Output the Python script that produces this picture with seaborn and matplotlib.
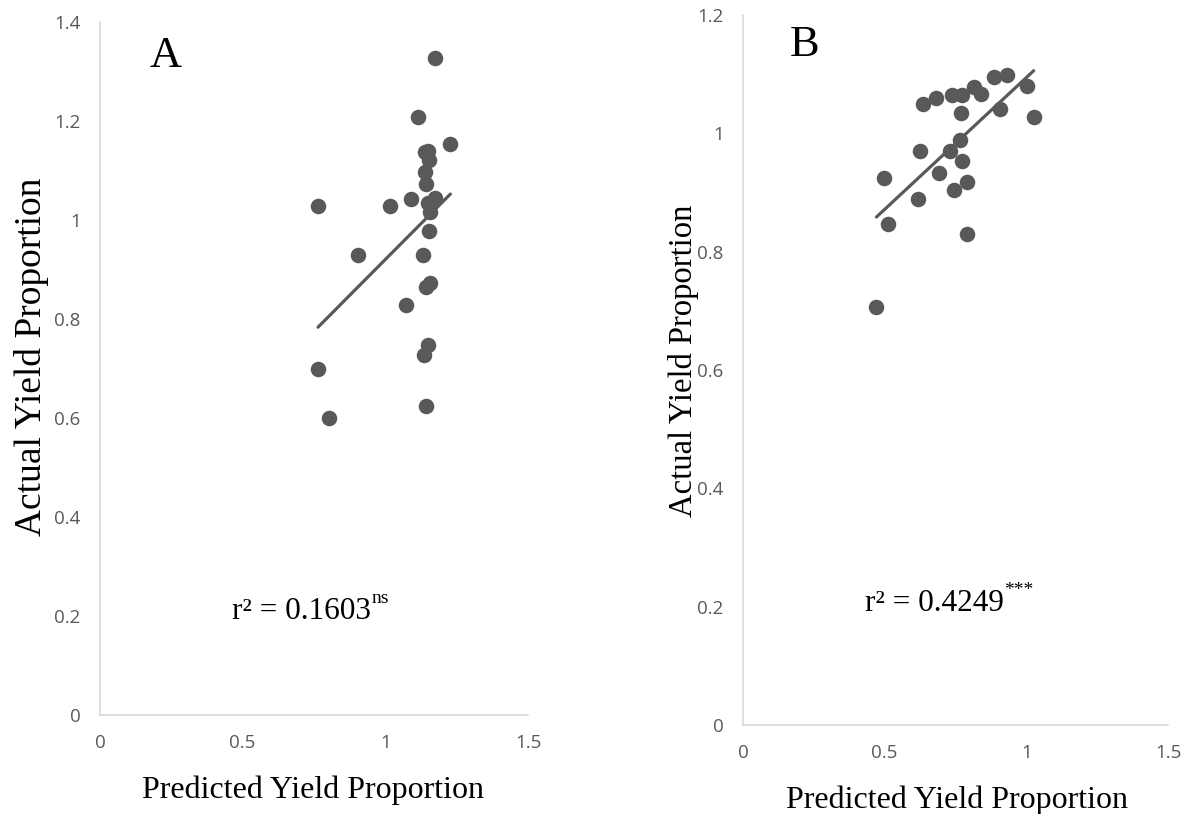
import matplotlib
matplotlib.use("Agg")
import matplotlib.pyplot as plt
import seaborn as sns
import numpy as np

# ---- data ----
predicted_a = [1.173, 1.114, 1.228, 1.150, 1.138, 1.154, 1.138, 1.144, 0.764, 1.018,
               1.091, 1.173, 1.150, 1.156, 1.153, 0.905, 1.132, 1.156, 1.142, 1.074,
               1.150, 1.137, 0.764, 1.142, 0.803]
actual_a = [1.327, 1.209, 1.153, 1.140, 1.138, 1.121, 1.096, 1.073, 1.029, 1.028,
            1.042, 1.045, 1.035, 1.017, 0.978, 0.929, 0.930, 0.873, 0.864, 0.828,
            0.747, 0.727, 0.699, 0.625, 0.599]

predicted_b = [0.636, 0.680, 0.736, 0.774, 0.814, 0.841, 0.885, 0.932, 1.003, 1.026,
               0.906, 0.768, 0.765, 0.732, 0.772, 0.626, 0.692, 0.497, 0.791, 0.745,
               0.618, 0.511, 0.792, 0.471]
actual_b = [1.049, 1.060, 1.065, 1.064, 1.078, 1.066, 1.096, 1.099, 1.080, 1.027,
            1.041, 1.035, 0.989, 0.970, 0.953, 0.970, 0.933, 0.925, 0.918, 0.905,
            0.889, 0.847, 0.830, 0.706]

x_ticks = [0, 0.5, 1, 1.5]
x_tick_labels = ["0", "0.5", "1", "1.5"]
y_ticks_a = [0, 0.2, 0.4, 0.6, 0.8, 1.0, 1.2, 1.4]
y_tick_labels_a = ["0", "0.2", "0.4", "0.6", "0.8", "1", "1.2", "1.4"]
y_ticks_b = [0, 0.2, 0.4, 0.6, 0.8, 1.0, 1.2]
y_tick_labels_b = ["0", "0.2", "0.4", "0.6", "0.8", "1", "1.2"]

panel_letters = ["A", "B"]
r2_texts = ["r\u00b2 = 0.1603", "r\u00b2 = 0.4249"]
sig_texts = ["ns", "***"]
x_title = "Predicted Yield Proportion"
y_title = "Actual Yield Proportion"

# ---- style ----
sns.set_style("white")
plt.rcParams["font.family"] = ["Open Sans", "DejaVu Sans"]

DOT = "#595959"
SPINE = "#d9d9d9"
TICK = "#595959"
SERIF = ["Liberation Serif", "DejaVu Serif"]

fig = plt.figure(figsize=(11.92, 8.14), dpi=100)
ax_a = fig.add_axes([100 / 1192, 1 - 715 / 814, 428 / 1192, 693 / 814])
ax_b = fig.add_axes([743 / 1192, 1 - 725 / 814, 425 / 1192, 710 / 814])

panels = [
    (ax_a, predicted_a, actual_a, 1.4, y_ticks_a, y_tick_labels_a, 27,
     (-0.160, 0.517), (0.498, -0.108), (0.154, 0.951), (0.308, 0.138)),
    (ax_b, predicted_b, actual_b, 1.2, y_ticks_b, y_tick_labels_b, 23.5,
     (-0.141, 0.513), (0.504, -0.106), (0.146, 0.958), (0.287, 0.160)),
]

for i, (ax, xs, ys, ymax, yt, ytl, ylab_size, ylab_pos, xlab_pos, let_pos, r2_pos) in enumerate(panels):
    sns.regplot(x=np.array(xs), y=np.array(ys), ax=ax, ci=None,
                scatter_kws=dict(s=125, color=DOT, linewidths=0, alpha=1),
                line_kws=dict(color=DOT, lw=2.3, solid_capstyle="round"))
    ax.set_xlim(0, 1.5)
    ax.set_ylim(0, ymax)
    ax.set_xticks(x_ticks)
    ax.set_xticklabels(x_tick_labels)
    ax.set_yticks(yt)
    ax.set_yticklabels(ytl)
    ax.tick_params(axis="both", length=0, labelsize=13.5, labelcolor=TICK, pad=14)
    for side in ["top", "right"]:
        ax.spines[side].set_visible(False)
    for side in ["left", "bottom"]:
        ax.spines[side].set_color(SPINE)
        ax.spines[side].set_linewidth(1.2)
    ax.grid(False)
    ax.set_facecolor("white")

    ax.set_xlabel(x_title, family=SERIF, fontsize=23, color="black", va="center")
    ax.xaxis.set_label_coords(*xlab_pos)
    ax.set_ylabel(y_title, family=SERIF, fontsize=ylab_size, color="black", va="center")
    ax.yaxis.set_label_coords(*ylab_pos)

    ax.text(let_pos[0], let_pos[1], panel_letters[i], transform=ax.transAxes,
            family=SERIF, fontsize=32, ha="center", va="center", color="black")

    t = ax.text(r2_pos[0], r2_pos[1], r2_texts[i], transform=ax.transAxes,
                family=SERIF, fontsize=22.5, ha="left", va="baseline", color="black")
    ax.annotate(sig_texts[i], xy=(1.0, 0.68), xycoords=t, xytext=(0.5, 0),
                textcoords="offset points", family=SERIF, fontsize=14,
                ha="left", va="bottom", color="black")

fig.savefig("out.png", dpi=100, facecolor="white")
